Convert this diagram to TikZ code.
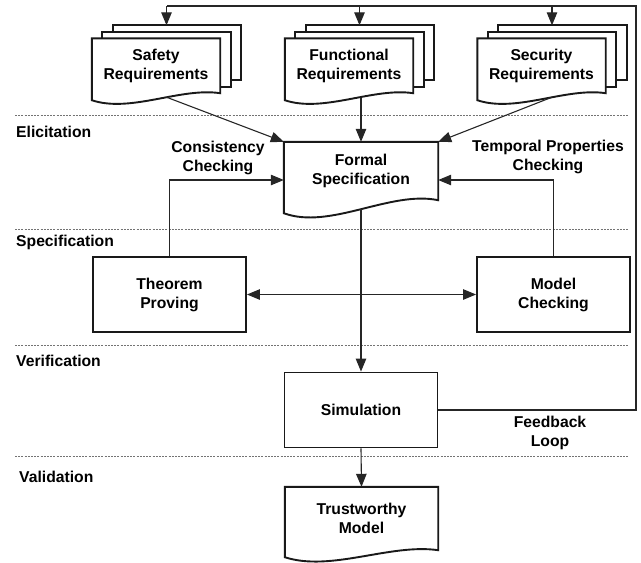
\documentclass[tikz,border=0pt]{standalone}
\usepackage{fontspec}
\setmainfont{Liberation Sans}
\usetikzlibrary{arrows.meta, positioning, calc}
\pgfdeclarelayer{back}
\pgfsetlayers{back,main}

% document outline with a wavy bottom, drawn round a node
\newcommand{\docshape}[4]{%
  \draw[box, fill=white] (#1.south east)
    .. controls ($(#1.south east)!0.31!(#1.south west)+(0,-#2)$)
    and ($(#1.south east)!0.7!(#1.south west)+(0,#3)$) .. ($(#1.south west)+(0,#4)$)
    -- (#1.north west) -- (#1.north east) -- cycle;}

\begin{document}
\begin{tikzpicture}[x=1pt, y=-1pt, >={Triangle[length=13pt,width=10.5pt]},
  font=\fontsize{15.7}{19}\selectfont\bfseries,
  box/.style={draw=black!90, line width=1.9pt},
  doc/.style={minimum width=128pt, minimum height=54.5pt, align=center, inner sep=0pt},
  proc/.style={box, minimum width=153pt, minimum height=75pt, align=center},
  link/.style={draw=black!85, line width=1.1pt},
  phase/.style={draw=black!55, line width=0.8pt, dash pattern=on 2pt off 1.2pt},
  lane/.style={anchor=west, inner sep=0pt},
  tag/.style={align=center, inner sep=0pt}]
  \useasboundingbox (0,0) rectangle (641,563);

  % phase separators
  \foreach \y in {115,229,345,456}
    \draw[phase] (15,\y) -- (628,\y);

  % lane names
  \node[lane] (elic) at (16,132) {Elicitation};
  \node[lane] (spec) at (16,242) {Specification};
  \node[lane] (veri) at (16,361) {Verification};
  \node[lane] (vali) at (19,477) {Validation};

  % requirement stacks
  \foreach \n/\x/\txt in {safety/156/Safety, func/349/Functional, sec/541.5/Security}{
    \node[doc] (\n3) at (\x+21,52.75) {};
    \node[doc] (\n2) at (\x+10.5,59.25) {};
    \node[doc] (\n) at (\x,65.75) {\txt\\Requirements};
    \begin{pgfonlayer}{back}
      \draw[box, fill=white] (\n3.north west) rectangle (\n3.south east);
      \draw[box, fill=white] (\n2.north west) rectangle (\n2.south east);
      \docshape{\n}{6}{20}{7}
    \end{pgfonlayer}
  }

  % formal specification
  \node[doc, minimum width=154pt, minimum height=58pt] (fs) at (361,171) {Formal\\Specification};
  \begin{pgfonlayer}{back}\docshape{fs}{10}{30}{13}\end{pgfonlayer}

  % verification and validation
  \node[proc] (thm) at (169.5,294.5) {Theorem\\Proving};
  \node[proc] (mc) at (553.5,294.5) {Model\\Checking};
  \node[proc] (sim) at (361,410) {Simulation};
  \node[doc, minimum width=153pt, minimum height=63pt] (tm) at (361.5,518.5) {Trustworthy\\Model};
  \begin{pgfonlayer}{back}\docshape{tm}{7}{22}{7}\end{pgfonlayer}

  % connector labels
  \node[tag] (cons) at (218,158) {Consistency\\Checking};
  \node[tag] (temp) at (548,157) {Temporal Properties\\Checking};
  \node[tag] (fb) at (550,433) {Feedback\\Loop};

  % connectors
  \draw[link, ->] ($(safety2.center |- safety.south)+(0,4)$) -- (fs.north west);
  \draw[link, ->] ($(fs.north |- func.south)+(0,5)$) -- (fs.north);
  \draw[link, ->] ($(sec2.center |- sec.south)+(0,4)$) -- (fs.north east);
  \draw[link, ->] (thm.north) |- ($(fs.west)+(0,9)$);
  \draw[link, ->] (mc.north) |- ($(fs.east)+(0,9)$);
  \draw[link, <->] (thm.east) -- (mc.west);
  \draw[link, ->] ($(fs.south)+(0,9)$) -- (sim.north);
  \draw[link, ->] (sim.south) -- (tm.north);

  % feedback loop
  \coordinate (loop) at (636,6);
  \draw[link] (sim.east) -| (loop) -- (loop -| safety2.north);
  \foreach \n in {safety,func,sec}
    \draw[link, ->] (loop -| \n2.north) -- (\n2.north |- \n3.north);
\end{tikzpicture}
\end{document}
